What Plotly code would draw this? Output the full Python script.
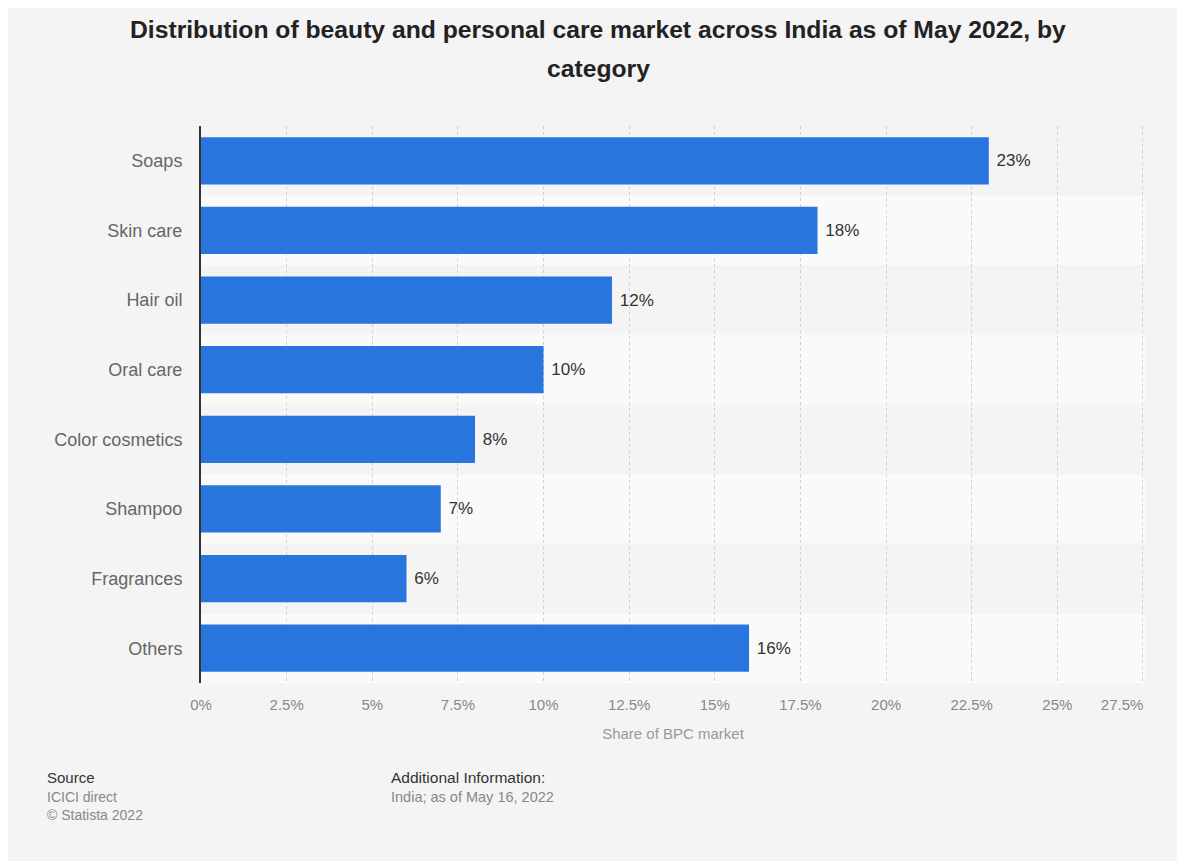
import plotly.graph_objects as go

categories = ["Soaps", "Skin care", "Hair oil", "Oral care", "Color cosmetics",
              "Shampoo", "Fragrances", "Others"]
shares = [23, 18, 12, 10, 8, 7, 6, 16]
tick_vals = [0, 2.5, 5, 7.5, 10, 12.5, 15, 17.5, 20, 22.5, 25, 27.5]
tick_text = ["0%", "2.5%", "5%", "7.5%", "10%", "12.5%", "15%", "17.5%",
             "20%", "22.5%", "25%", "27.5%" + "\u00a0" * 10]

title_line1 = "Distribution of beauty and personal care market across India as of May 2022, by"
title_line2 = "category"
x_title = "Share of BPC market"

FONT = "Liberation Sans, Arial, Helvetica, sans-serif"
BG = "#f4f4f4"
BAND = "#fafafa"
BAR = "#2876dd"

# page offset (body margin)
OFF = 8
W, H = 1185 - OFF, 861 - OFF
# plot area in page pixels: x 201..1145, y 126..683
L, R, T, B = 201 - OFF, 1145 - OFF, 126 - OFF, 683 - OFF
pw, ph = R - L, B - T


def px_x(p):
    return (p - OFF - L) / pw


def px_y(p):
    return (B - (p - OFF)) / ph


fig = go.Figure()
fig.add_trace(go.Bar(
    x=shares, y=categories, orientation="h",
    marker=dict(color=BAR, line=dict(width=0)),
    width=0.68,
    text=[f"\u00a0{v}%" for v in shares], textposition="outside",
    textfont=dict(family=FONT, size=17, color="#333333"),
    cliponaxis=False, hoverinfo="skip",
))

shapes = []
for i, _ in enumerate(categories):
    if i % 2 == 1:
        shapes.append(dict(type="rect", xref="paper", yref="y", layer="below",
                           x0=0, x1=1, y0=i - 0.5, y1=i + 0.5,
                           fillcolor=BAND, line=dict(width=0)))


def ann(text, x, y, size, color, anchor="left"):
    return dict(text=text, xref="paper", yref="paper", x=px_x(x), y=px_y(y),
                xanchor=anchor, yanchor="middle", showarrow=False,
                font=dict(family=FONT, size=size, color=color))


annotations = [
    ann(f"<b>{title_line1}</b>", 598, 30, 24.7, "#222222", "center"),
    ann(f"<b>{title_line2}</b>", 598, 68, 24.7, "#222222", "center"),
    ann("Source", 45, 777, 15, "#333333"),
    ann("ICICI direct", 45, 797, 14, "#888888"),
    ann("© Statista 2022", 45, 815, 14, "#888888"),
    ann("Additional Information:", 389, 777, 15.5, "#333333"),
    ann("India; as of May 16, 2022", 389, 797, 14.5, "#888888"),
]

fig.update_layout(
    width=W, height=H,
    margin=dict(l=L, r=W - R, t=T, b=H - B, pad=0, autoexpand=False),
    paper_bgcolor=BG, plot_bgcolor=BG,
    showlegend=False,
    font=dict(family=FONT),
    shapes=shapes, annotations=annotations,
    xaxis=dict(range=[0, 27.56], tickvals=tick_vals, ticktext=tick_text,
               showgrid=True, gridcolor="#cfcfcf", griddash="dot", gridwidth=1,
               zeroline=False, showline=False, ticks="",
               ticklabelstandoff=11, ticklabeloverflow="allow",
               automargin=False,
               tickfont=dict(family=FONT, size=15, color="#888888"),
               title=dict(text=x_title, standoff=16,
                          font=dict(family=FONT, size=15, color="#999999")),
               fixedrange=True),
    yaxis=dict(categoryorder="array", categoryarray=categories,
               autorange="reversed", showgrid=False, zeroline=False,
               showline=True, linecolor="#333333", linewidth=2, ticks="",
               ticklabelstandoff=13, automargin=False,
               tickfont=dict(family=FONT, size=18, color="#666666"),
               fixedrange=True),
)

fig.write_html("out.html")
